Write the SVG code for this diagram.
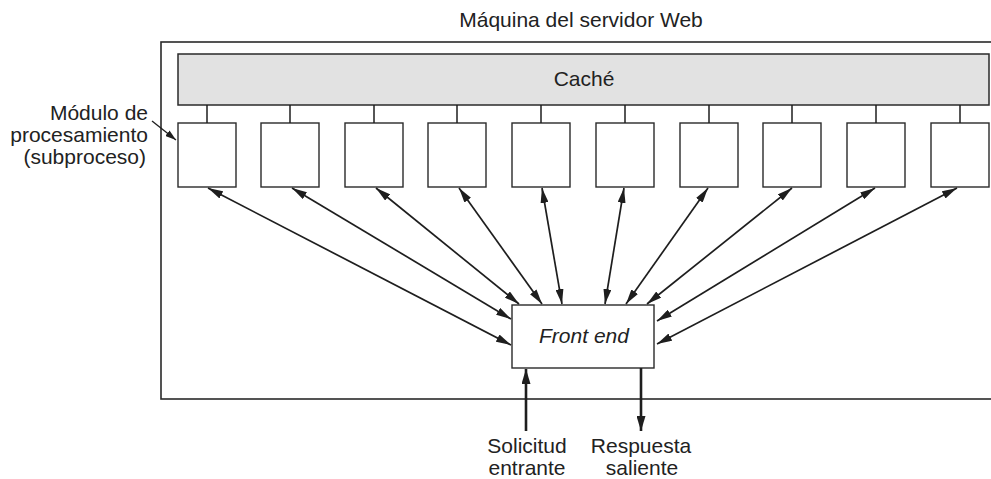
<svg xmlns="http://www.w3.org/2000/svg" width="991" height="479" viewBox="0 0 991 479">
  <defs>
    <marker id="ah" markerUnits="userSpaceOnUse" markerWidth="15" markerHeight="8" refX="15" refY="4" orient="auto-start-reverse">
      <path d="M0,0 L15,4 L0,8 z" fill="#1e1e1e"/>
    </marker>
    <marker id="ahb" markerUnits="userSpaceOnUse" markerWidth="15" markerHeight="9" refX="15" refY="4.5" orient="auto">
      <path d="M0,0 L15,4.5 L0,9 z" fill="#1e1e1e"/>
    </marker>
    <marker id="ahs" markerUnits="userSpaceOnUse" markerWidth="11" markerHeight="7" refX="11" refY="3.5" orient="auto">
      <path d="M0,0 L11,3.5 L0,7 z" fill="#1e1e1e"/>
    </marker>
  </defs>
  <style>
    text { font-family: "Liberation Sans", Arial, sans-serif; font-size: 21px; fill: #222; }
    .box { fill: #fff; stroke: #2a2a2a; stroke-width: 1.4; }
    .link { stroke: #1e1e1e; stroke-width: 1.5; fill: none; }
    .arr { stroke: #1e1e1e; stroke-width: 1.7; fill: none; marker-start: url(#ah); marker-end: url(#ah); }
    .io { stroke: #1e1e1e; stroke-width: 2.6; fill: none; marker-end: url(#ahb); }
  </style>
  <rect width="991" height="479" fill="#fff"/>

  <g id="server">
    <rect x="161" y="42" width="850" height="357" fill="none" stroke="#2a2a2a" stroke-width="1.6"/>
    <text x="581" y="27" text-anchor="middle">Máquina del servidor Web</text>
  </g>

  <g id="cache">
    <rect x="178" y="54" width="811" height="51" fill="#e2e2e2" stroke="#2a2a2a" stroke-width="1.5"/>
    <text x="584" y="86" text-anchor="middle">Caché</text>
  </g>

  <g id="modules">
    <rect id="m1" class="box" x="178" y="123" width="58" height="64"/>
    <rect id="m2" class="box" x="261" y="123" width="58" height="64"/>
    <rect id="m3" class="box" x="345" y="123" width="58" height="64"/>
    <rect id="m4" class="box" x="428" y="123" width="58" height="64"/>
    <rect id="m5" class="box" x="512" y="123" width="58" height="64"/>
    <rect id="m6" class="box" x="596" y="123" width="58" height="64"/>
    <rect id="m7" class="box" x="680" y="123" width="58" height="64"/>
    <rect id="m8" class="box" x="763" y="123" width="58" height="64"/>
    <rect id="m9" class="box" x="847" y="123" width="58" height="64"/>
    <rect id="m10" class="box" x="931" y="123" width="58" height="64"/>
  </g>

  <g id="module-label">
    <text x="148" y="120" text-anchor="end">Módulo de</text>
    <text x="148" y="142" text-anchor="end">procesamiento</text>
    <text x="146" y="164" text-anchor="end">(subproceso)</text>
  </g>

  <g id="frontend">
    <rect class="box" x="512" y="305" width="142" height="63"/>
    <text x="584" y="343" text-anchor="middle" font-style="italic">Front end</text>
  </g>

  <g id="io-labels">
    <text x="527" y="453" text-anchor="middle">Solicitud</text>
    <text x="527" y="475" text-anchor="middle">entrante</text>
    <text x="641" y="453" text-anchor="middle">Respuesta</text>
    <text x="642" y="475" text-anchor="middle">saliente</text>
  </g>

  <g id="connectors">
    <line class="link" x1="207" y1="105" x2="207" y2="123"/>
    <line class="link" x1="290" y1="105" x2="290" y2="123"/>
    <line class="link" x1="374" y1="105" x2="374" y2="123"/>
    <line class="link" x1="457" y1="105" x2="457" y2="123"/>
    <line class="link" x1="541" y1="105" x2="541" y2="123"/>
    <line class="link" x1="625" y1="105" x2="625" y2="123"/>
    <line class="link" x1="709" y1="105" x2="709" y2="123"/>
    <line class="link" x1="792" y1="105" x2="792" y2="123"/>
    <line class="link" x1="876" y1="105" x2="876" y2="123"/>
    <line class="link" x1="960" y1="105" x2="960" y2="123"/>

    <line class="arr" x1="208" y1="188" x2="511" y2="345"/>
    <line class="arr" x1="292" y1="188" x2="511" y2="319"/>
    <line class="arr" x1="376" y1="188" x2="519" y2="304"/>
    <line class="arr" x1="459" y1="188" x2="542" y2="304"/>
    <line class="arr" x1="542" y1="188" x2="562" y2="304"/>
    <line class="arr" x1="624" y1="188" x2="605" y2="304"/>
    <line class="arr" x1="708" y1="188" x2="626" y2="304"/>
    <line class="arr" x1="792" y1="188" x2="647" y2="304"/>
    <line class="arr" x1="875" y1="188" x2="657" y2="321"/>
    <line class="arr" x1="957" y1="188" x2="657" y2="344"/>

    <line class="io" x1="526" y1="431" x2="526" y2="369"/>
    <line class="io" x1="641" y1="368" x2="641" y2="431"/>

    <line x1="152" y1="121" x2="176" y2="140" stroke="#1e1e1e" stroke-width="1.3" marker-end="url(#ahs)"/>
  </g>
</svg>
